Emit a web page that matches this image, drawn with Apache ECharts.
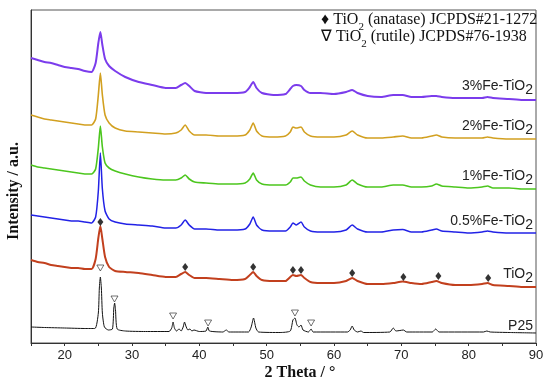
<!DOCTYPE html>
<html><head><meta charset="utf-8">
<script src="https://cdn.jsdelivr.net/npm/echarts@6/dist/echarts.min.js"></script>
<style>html,body{margin:0;padding:0;background:#fff}#c{width:550px;height:385px}</style>
</head><body><div id="c"></div>
<script>
// shared 2θ grid for anatase-type samples
var thetaA = [15,16,17,18,19,20,21,22,23,24,24.6,25.0,25.3,25.6,26.0,26.6,27.5,29,31,33,35,36.5,37.3,37.9,38.5,39.3,41,43,45,46.8,47.5,48.0,48.5,49.3,51,52.8,53.5,53.9,54.4,55.1,55.6,56.5,58,60,61.8,62.7,63.5,65,67,68.8,70.2,71.5,73,74.5,75.2,76,78,80,82,82.8,83.6,86,88,90];
var fe3  = [285,283,281,280,278,276,275,274,272,271,280,300,311,298,284,277,272,266,261,258,255,255,258,260,257,252,250,250,250,251,256,261,255,250,248,249,254,257,258,257,253,250,250,249,251,253,250,247,246,248,248,246,246,247,247,246,245,245,245,246,245,244,243,243];
var fe2  = [228,226,224,223,222,221,220,219,218,218,224,248,270,248,228,220,215,212,211,210,209,210,213,218,212,208,208,207,207,208,213,220,212,207,206,207,211,216,215,216,211,207,206,206,208,212,208,205,205,206,207,205,205,207,208,206,205,205,205,206,205,204,204,204];
var fe1  = [178,176,175,174,173,172,171,170,169,169,174,195,217,196,180,175,172,169,166,164,163,163,165,168,164,161,160,159,159,160,164,170,163,159,158,158,161,165,165,166,162,158,156,156,158,163,159,156,156,158,158,156,156,157,159,157,156,155,156,157,155,155,154,154];
var fe05 = [128,127,126,125,124,123,122,122,121,120,126,152,190,154,132,124,121,119,118,117,115,115,118,123,118,114,114,113,113,114,119,126,118,113,112,112,116,120,118,121,116,112,111,111,113,118,114,111,111,113,113.5,111,111,113,114,112,111,110,111,112,111,110,110,110];
var tio2 = [83,81,80,78,77,76,75,75,74,74,84,105,117,104,86,76,72,71,70,68,66,66,69,71,68,65,65,64,63,64,68,71,67,63,62,62,66,68,67,68,65,61,60,60,62,65,62,59,59,60,61.5,60,59,61,62,60,58,58,59,60,58,57,56,56];
// P25 has its own grid (rutile peaks)
var thetaP = [15,17,20,23,24.5,25.0,25.15,25.3,25.45,25.6,25.9,26.5,27.1,27.3,27.42,27.55,27.8,29,32,35.5,35.9,36.1,36.3,36.6,37.0,37.3,37.6,37.8,38.0,38.3,38.6,38.9,39.2,40,41.0,41.25,41.5,43.5,44.0,44.4,47.3,47.7,48.05,48.4,48.8,52,53.5,53.9,54.2,54.5,54.8,55.1,55.4,56.2,56.6,56.9,62.0,62.4,62.7,63.0,63.5,64.0,64.4,68.3,68.8,69.2,69.8,70.3,70.8,74.6,75.1,75.6,82.2,82.7,83.2,86,90];
var p25 = [16,15.5,15,14.5,14.5,30,55,66,55,30,16,13,14,35,40,33,14,12,11.5,11.5,15,21,15,12,14,12,16,21,17,13,14,12,13,11.5,12,16,12,11,13,11,11,16,25,15,11,10.5,12,23,25,18,16,18,13,11,14,11,11,13,17,13,11,12,10.5,11,15,12,12.5,13,11,11,14,11,11,12,11,10.5,10];
// reflection markers
var anataseTheta = [25.3,37.9,48.0,53.9,55.1,62.7,70.3,75.5,82.9];
var anataseY     = [121,76,76,73,73,70,66,67,65];
var rutileTheta  = [25.3,27.4,36.1,41.3,54.2,56.6];
var rutileY      = [75,44,27,20,30,20];
var xTicks = [20,30,40,50,60,70,80,90];

function zip(a,b){return a.map(function(v,i){return [v,b[i]];});}

var chart = echarts.init(document.getElementById('c'));
var G = {left:31, top:10, width:505, height:333};

var cv = document.createElement('canvas').getContext('2d');
function tw(t,font){cv.font=font;return cv.measureText(t).width;}
// composite text: segments [text, font, dy]
function comp(segs, x, y, anchor, fill){
  var total=0; segs.forEach(function(s){s.w=tw(s[0],s[1]);total+=s.w;});
  var cx = anchor==='right'? x-total : x;
  var out=[];
  segs.forEach(function(s){
    out.push({type:'text', z:100, style:{text:s[0], x:cx, y:y+(s[2]||0), font:s[1], fill:fill||'#222', align:'left', textAlign:'left', verticalAlign:'middle', textVerticalAlign:'middle'}});
    cx+=s.w;
  });
  return out;
}
var SF='14px "Liberation Sans", Arial, sans-serif';
var TF='16px "Liberation Serif", "Times New Roman", serif';
var TFs='11px "Liberation Serif", "Times New Roman", serif';
var graphics=[];
function sampleLabel(pre, y){ graphics = graphics.concat(comp([[pre,SF,0],['2',SF,4]],533,y,'right','#222')); }
sampleLabel('3%Fe-TiO',86);
sampleLabel('2%Fe-TiO',126);
sampleLabel('1%Fe-TiO',176);
sampleLabel('0.5%Fe-TiO',221);
sampleLabel('TiO',274);
graphics = graphics.concat(comp([['P25',SF,0]],533,326,'right','#222'));
graphics = graphics.concat(comp([['\u2666 TiO',TF,0],['2',TFs,7],[' (anatase) JCPDS#21-1272',TF,0]],321,20,'left','#111'));
graphics = graphics.concat(comp([['\u2207 TiO',TF,0],['2',TFs,7],[' (rutile) JCPDS#76-1938',TF,0]],321,37,'left','#111'));
graphics.push({type:'text', z:100, style:{text:'2 Theta / \u00b0', x:300, y:373, font:'bold 16px "Liberation Serif", "Times New Roman", serif', fill:'#111', align:'center', textAlign:'center', verticalAlign:'middle', textVerticalAlign:'middle'}});
graphics.push({type:'text', z:100, x:14, y:191, rotation:Math.PI/2, style:{text:'Intensity / a.u.', x:0, y:0, font:'bold 16px "Liberation Serif", "Times New Roman", serif', fill:'#111', align:'center', textAlign:'center', verticalAlign:'middle', textVerticalAlign:'middle'}});

function lineS(name,xs,ys,color,w){
  return {name:name,type:'line',data:zip(xs,ys),showSymbol:false,symbol:'none',smooth:0.2,
    lineStyle:{color:color,width:w},animation:false,silent:true};
}
chart.setOption({
  animation:false,
  grid:{left:G.left,top:G.top,width:G.width,height:G.height,show:true,borderColor:'#555',borderWidth:1,backgroundColor:'transparent'},
  xAxis:{type:'value',min:15,max:90,interval:5,
    axisLine:{lineStyle:{color:'#333',width:1}},
    axisTick:{show:true,length:3,lineStyle:{color:'#333'}},
    splitLine:{show:false},
    axisLabel:{color:'#222',fontSize:13,fontFamily:'"Liberation Sans", Arial, sans-serif',margin:6,
      formatter:function(v){return xTicks.indexOf(v)>=0?String(v):'';}}},
  yAxis:{type:'value',min:0,max:333,
    axisLine:{show:true,lineStyle:{color:'#333',width:1}},
    axisTick:{show:false},axisLabel:{show:false},splitLine:{show:false}},
  graphic:graphics,
  series:[
    lineS('P25',thetaP,p25,'#111111',1),
    lineS('TiO2',thetaA,tio2,'#c2401e',2),
    lineS('0.5%Fe-TiO2',thetaA,fe05,'#2222e6',1.5),
    lineS('1%Fe-TiO2',thetaA,fe1,'#4cc61e',1.6),
    lineS('2%Fe-TiO2',thetaA,fe2,'#d2a020',1.6),
    lineS('3%Fe-TiO2',thetaA,fe3,'#7b3cec',2),
    {type:'scatter',data:zip(anataseTheta,anataseY),symbol:'diamond',symbolSize:[6,8],
      itemStyle:{color:'#000'},z:10,silent:true},
    {type:'scatter',data:zip(rutileTheta,rutileY),symbol:'path://M0,0 L10,0 L5,9 Z',symbolSize:[7,6],
      itemStyle:{color:'#fff',borderColor:'#222',borderWidth:0.8},z:10,silent:true}
  ]
});
</script></body></html>
